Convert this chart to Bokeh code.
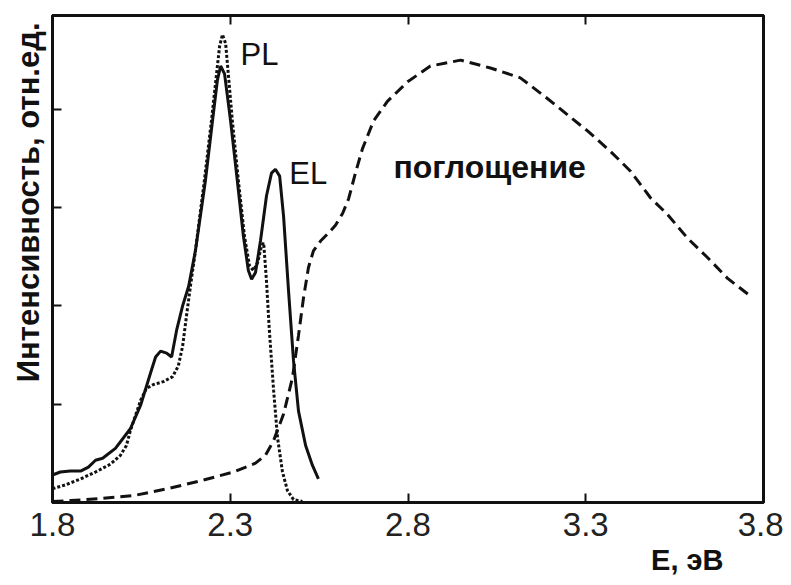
from bokeh.plotting import figure
from bokeh.models import LinearAxis, FixedTicker, Label, Range1d, Title
from bokeh.embed import file_html
from bokeh.resources import INLINE

# ---- data ----
el_e = [1.800, 1.822, 1.850, 1.879, 1.901, 1.921, 1.941, 1.977, 2.019, 2.048, 2.076, 2.090,
        2.104, 2.121, 2.135, 2.149, 2.166, 2.183, 2.202, 2.230, 2.250, 2.264, 2.273, 2.284,
        2.301, 2.320, 2.337, 2.351, 2.360, 2.371, 2.385, 2.402, 2.416, 2.427, 2.439, 2.450,
        2.464, 2.478, 2.492, 2.512, 2.531, 2.548]
el_i = [0.28, 0.31, 0.32, 0.32, 0.36, 0.43, 0.45, 0.55, 0.75, 0.99, 1.32, 1.48,
        1.54, 1.52, 1.48, 1.75, 2.00, 2.20, 2.56, 3.27, 3.88, 4.30, 4.44, 4.36,
        3.88, 3.27, 2.71, 2.36, 2.27, 2.34, 2.66, 3.12, 3.35, 3.39, 3.32, 2.91,
        2.15, 1.44, 0.93, 0.58, 0.38, 0.24]

pl_e = [1.800, 1.837, 1.879, 1.921, 1.963, 1.991, 2.008, 2.019, 2.033, 2.048, 2.064, 2.084,
        2.112, 2.138, 2.154, 2.166, 2.177, 2.188, 2.202, 2.227, 2.247, 2.259, 2.270, 2.278,
        2.287, 2.295, 2.306, 2.323, 2.340, 2.354, 2.365, 2.377, 2.388, 2.394, 2.402, 2.410,
        2.422, 2.433, 2.447, 2.461, 2.478, 2.503]
pl_i = [0.14, 0.18, 0.24, 0.31, 0.39, 0.48, 0.58, 0.73, 0.88, 1.04, 1.16, 1.20,
        1.23, 1.28, 1.39, 1.59, 1.90, 2.20, 2.56, 3.27, 3.88, 4.28, 4.64, 4.76,
        4.67, 4.34, 3.88, 3.27, 2.71, 2.41, 2.36, 2.44, 2.61, 2.64, 2.25, 1.75,
        1.14, 0.66, 0.31, 0.12, 0.03, 0.01]

abs_e = [1.800, 1.851, 1.935, 2.028, 2.123, 2.216, 2.309, 2.371, 2.399, 2.422, 2.450, 2.475,
         2.492, 2.506, 2.520, 2.534, 2.554, 2.576, 2.596, 2.616, 2.633, 2.652, 2.672, 2.703,
         2.742, 2.799, 2.863, 2.948, 3.032, 3.116, 3.192, 3.305, 3.370, 3.426, 3.482, 3.530,
         3.586, 3.643, 3.699, 3.763]
abs_i = [0.01, 0.02, 0.04, 0.07, 0.14, 0.22, 0.31, 0.40, 0.48, 0.63, 0.90, 1.27,
         1.70, 2.08, 2.39, 2.56, 2.66, 2.74, 2.82, 2.94, 3.09, 3.35, 3.60, 3.88,
         4.08, 4.28, 4.44, 4.50, 4.42, 4.32, 4.11, 3.78, 3.57, 3.37, 3.10, 2.93,
         2.69, 2.49, 2.28, 2.10]

x_ticks = [1.8, 2.3, 2.8, 3.3, 3.8]
y_ticks = [1, 2, 3, 4]

INK = "#111111"

p = figure(width=783, height=583, output_backend="svg", toolbar_location=None,
           x_range=Range1d(1.8, 3.8), y_range=Range1d(0, 4.954),
           x_axis_location=None, y_axis_location=None,
           min_border_left=52, min_border_right=20, min_border_top=15, min_border_bottom=81)
p.grid.visible = False
p.background_fill_color = "white"
p.border_fill_color = "white"
p.outline_line_color = INK
p.outline_line_width = 3

def mk_axis(ticks, show_labels):
    ax = LinearAxis(ticker=FixedTicker(ticks=ticks))
    ax.axis_line_color = INK
    ax.axis_line_width = 3
    ax.major_tick_line_color = INK
    ax.major_tick_line_width = 2
    ax.major_tick_in = 9
    ax.major_tick_out = 0
    ax.minor_tick_line_color = None
    if show_labels:
        ax.major_label_text_font = "Liberation Sans"
        ax.major_label_text_font_size = "33px"
        ax.major_label_text_color = "#222222"
        ax.major_label_standoff = 10
    else:
        ax.major_label_text_font_size = "6px"
        ax.major_label_text_color = None
        ax.major_label_standoff = 0
    return ax

p.add_layout(mk_axis(x_ticks, True), "below")
p.add_layout(mk_axis(x_ticks, False), "above")
p.add_layout(mk_axis(y_ticks, False), "left")

# axis titles placed as plot titles so they can be shifted along the frame
p.add_layout(Title(text="E, эВ", align="right", offset=40, standoff=6,
                   text_font="Liberation Sans", text_font_size="29px",
                   text_font_style="bold", text_color=INK), "below")
p.add_layout(Title(text="Интенсивность, отн.ед.", align="right", offset=7, standoff=14,
                   text_font="Liberation Sans", text_font_size="31px",
                   text_font_style="bold", text_color=INK), "left")

p.line(abs_e, abs_i, line_color=INK, line_width=3, line_dash="11 6")
p.line(pl_e, pl_i, line_color=INK, line_width=3, line_dash="3 2")
p.line(el_e, el_i, line_color=INK, line_width=3)

def lab(x, y, text, size, bold=False):
    p.add_layout(Label(x=x, y=y, text=text, text_font="Liberation Sans",
                       text_font_size=size, text_font_style="bold" if bold else "normal",
                       text_color=INK, text_align="left", text_baseline="middle"))

lab(2.329, 4.56, "PL", "31px")
lab(2.466, 3.35, "EL", "31px")
lab(2.759, 3.41, "поглощение", "32px", bold=True)

open("out.html", "w").write(file_html(p, INLINE))
